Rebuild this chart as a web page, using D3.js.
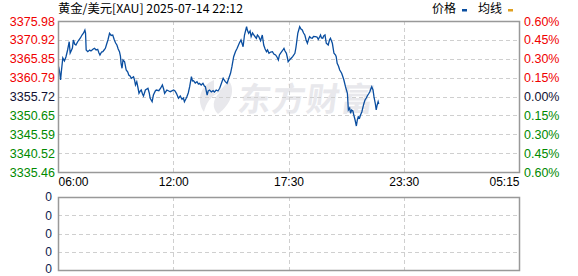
<!DOCTYPE html>
<html>
<head>
<meta charset="utf-8">
<script src="https://cdn.jsdelivr.net/npm/d3@7"></script>
<style>
    body { margin: 0; background: #fff; }
    text { font-family: "Liberation Sans", Arial, sans-serif; font-size: 12px; }
    .cjk { font-family: "Noto Sans CJK SC", sans-serif; }
</style>
</head>
<body>
<script>
(function(){

//pseudo-global variables
var titleText = "黄金/美元[XAU] 2025-07-14 22:12";
var legendNames = ["价格", "均线"];
var legendColors = ["#0a4ea0", "#e0a020"];

//x axis: tick times and where they fall (minutes after 06:00)
var tickLabels = ["06:00", "12:00", "17:30", "23:30", "05:15"];
var tickMinutes = [0, 360, 690, 1050, 1395];

//price axis ticks and previous close
var prevClose = 3355.72;
var priceTicks = [3375.98, 3370.92, 3365.85, 3360.79, 3355.72, 3350.65, 3345.59, 3340.52, 3335.46];
var pctTicks = [0.60, 0.45, 0.30, 0.15, 0.00, -0.15, -0.30, -0.45, -0.60];

//volume panel ticks (all zero)
var volumeTicks = [0, 0, 0, 0, 0];

//minutes after 06:00 for each price read
var minutes = [2, 5, 8, 11, 15, 20, 25, 30, 35, 38, 41, 45, 48, 52, 56, 61, 65, 70, 75, 80,
    84, 86, 88, 93, 99, 103, 110, 114, 119, 124, 128, 131, 136, 140, 144, 148, 152, 156, 161, 166,
    171, 176, 180, 184, 188, 192, 195, 197, 200, 203, 208, 213, 218, 221, 225, 229, 236, 239, 242, 246,
    250, 253, 257, 260, 264, 267, 271, 273, 281, 285, 288, 294, 298, 304, 307, 315, 321, 326, 330, 333,
    340, 346, 351, 361, 365, 369, 375, 380, 385, 389, 392, 396, 399, 403, 407, 412, 415, 418, 423, 428,
    432, 435, 440, 445, 449, 452, 457, 460, 464, 469, 474, 478, 483, 488, 493, 498, 503, 506, 509, 514,
    519, 524, 528, 533, 538, 543, 549, 554, 560, 564, 570, 572, 576, 580, 583, 587, 591, 595, 598, 601,
    605, 610, 615, 619, 623, 627, 630, 634, 639, 644, 648, 653, 657, 661, 664, 667, 672, 677, 680, 684,
    687, 689, 693, 696, 699, 703, 710, 713, 715, 719, 722, 725, 729, 733, 737, 741, 745, 749, 753, 756,
    760, 764, 768, 774, 779, 783, 787, 790, 793, 797, 800, 804, 808, 814, 818, 821, 827, 832, 837, 839,
    842, 846, 850, 856, 859, 863, 868, 874, 877, 881, 884, 887, 891, 894, 898, 902, 905, 908, 912, 915,
    919, 923, 926, 929, 933, 936, 940, 944, 947, 950, 954, 957, 959, 961, 964, 967, 970, 972];

//gold price at each minute above
var prices = [3363.72, 3362.38, 3360.15, 3362.83, 3366.05, 3365.25, 3366.40, 3368.20, 3370.43, 3367.39,
    3367.93, 3368.73, 3370.88, 3369.81, 3369.54, 3370.34, 3370.88, 3371.42, 3372.22, 3372.76,
    3373.56, 3372.76, 3368.20, 3367.74, 3368.20, 3367.93, 3368.47, 3368.65, 3368.20, 3368.39,
    3367.39, 3366.86, 3367.66, 3367.74, 3368.20, 3368.65, 3369.81, 3370.88, 3372.68, 3372.09,
    3372.22, 3370.88, 3370.08, 3369.54, 3368.47, 3367.74, 3366.59, 3364.63, 3363.29, 3365.51,
    3365.06, 3362.83, 3362.29, 3361.49, 3361.22, 3360.60, 3361.03, 3360.15, 3358.81, 3359.69,
    3358.00, 3356.58, 3357.20, 3357.46, 3356.39, 3355.85, 3356.93, 3357.46, 3357.92, 3356.66,
    3355.24, 3354.32, 3356.12, 3357.20, 3357.46, 3357.28, 3358.00, 3358.81, 3357.73, 3356.58,
    3357.46, 3357.20, 3357.01, 3357.46, 3357.20, 3356.58, 3355.24, 3355.85, 3354.97, 3355.32,
    3354.32, 3355.05, 3355.67, 3356.66, 3358.35, 3361.03, 3359.88, 3359.96, 3359.34, 3359.69,
    3359.07, 3359.26, 3358.81, 3359.26, 3358.54, 3358.35, 3356.12, 3357.20, 3357.46, 3356.93,
    3357.28, 3356.93, 3357.46, 3357.20, 3357.92, 3359.26, 3360.60, 3360.15, 3359.69, 3359.26,
    3360.60, 3361.95, 3363.72, 3366.40, 3367.74, 3368.65, 3370.00, 3370.88, 3369.08, 3372.22,
    3374.45, 3373.56, 3372.68, 3373.30, 3371.77, 3372.76, 3372.22, 3371.69, 3371.34, 3372.22,
    3371.77, 3370.69, 3372.22, 3369.54, 3368.47, 3367.74, 3368.20, 3367.31, 3367.66, 3367.74,
    3367.12, 3366.86, 3366.32, 3365.51, 3366.86, 3367.31, 3367.93, 3368.65, 3367.93, 3367.31,
    3366.05, 3365.06, 3365.51, 3365.78, 3366.05, 3366.40, 3367.31, 3368.73, 3370.00, 3372.68,
    3373.56, 3374.45, 3373.83, 3373.56, 3372.76, 3372.22, 3370.88, 3370.00, 3371.15, 3371.77,
    3371.42, 3371.34, 3371.82, 3371.77, 3371.69, 3371.07, 3371.69, 3372.22, 3371.42, 3371.34,
    3371.95, 3372.22, 3370.00, 3369.54, 3370.88, 3371.34, 3370.00, 3367.31, 3366.86, 3366.40,
    3364.63, 3363.90, 3362.83, 3361.95, 3361.22, 3360.15, 3358.35, 3356.58, 3352.10, 3352.63,
    3351.21, 3352.10, 3351.83, 3350.76, 3349.41, 3347.80, 3349.41, 3350.30, 3349.95, 3350.76,
    3351.56, 3352.98, 3353.98, 3354.78, 3355.32, 3355.85, 3356.39, 3357.01, 3357.73, 3358.35,
    3357.46, 3355.67, 3354.78, 3353.90, 3352.10, 3353.44, 3354.32, 3353.71];

//frame dimensions
var width = 578,
    height = 276,
    left = 58,
    right = 519,
    priceTop = 21,
    priceBottom = 172,
    volTop = 197,
    volBottom = 270;

var upColor = "#f00000",
    downColor = "#008a00",
    flatColor = "#111133",
    gridColor = "#cfcfcf",
    frameColor = "#999";

//piecewise x scale so the session ticks are evenly spaced
var xScale = d3.scaleLinear()
    .domain(tickMinutes)
    .range(tickMinutes.map(function(d, i){
        return left + i * (right - left) / (tickMinutes.length - 1);
    }));

var yScale = d3.scaleLinear()
    .domain([priceTicks[priceTicks.length - 1], priceTicks[0]])
    .range([priceBottom, priceTop]);

var volScale = d3.scaleLinear()
    .domain([volumeTicks.length - 1, 0])
    .range([volBottom, volTop]);

setChart();

function labelColor(v){
    if (Math.abs(v - prevClose) < 0.005) return flatColor;
    return v > prevClose ? upColor : downColor;
};

function setChart(){

    var svg = d3.select("body")
        .append("svg")
        .attr("width", width)
        .attr("height", height);

    //title
    svg.append("text")
        .attr("class", "cjk")
        .attr("x", left)
        .attr("y", 13)
        .attr("textLength", 185)
        .attr("lengthAdjust", "spacingAndGlyphs")
        .style("fill", "#000")
        .text(titleText);

    //legend
    var legendX = [432, 478];
    legendNames.forEach(function(name, i){
        svg.append("text")
            .attr("class", "cjk")
            .attr("x", legendX[i])
            .attr("y", 13)
            .style("fill", "#000")
            .text(name);
        svg.append("rect")
            .attr("x", legendX[i] + 30)
            .attr("y", 9)
            .attr("width", 5)
            .attr("height", 2.5)
            .style("fill", legendColors[i]);
    });

    //watermark
    var mark = svg.append("g")
        .style("fill", "#e8e8ec");
    mark.append("path")
        .attr("d", "M214,80 C200,86 196,100 204,112 C206,104 210,96 220,92 C212,100 212,108 218,114 C232,104 236,88 228,80 C224,88 218,92 214,94 Z");
    mark.append("text")
        .attr("class", "cjk")
        .attr("x", 238)
        .attr("y", 111)
        .attr("textLength", 136)
        .attr("transform", "skewX(-8) translate(14,0)")
        .style("font-size", "33px")
        .style("font-weight", "bold")
        .text("东方财富");

    //price grid
    var grid = svg.append("g")
        .style("stroke", gridColor)
        .style("stroke-dasharray", "4,3");

    grid.selectAll(".hgrid")
        .data(priceTicks.slice(1, -1))
        .enter()
        .append("line")
        .attr("x1", left).attr("x2", right)
        .attr("y1", function(d){ return Math.round(yScale(d)) + 0.5; })
        .attr("y2", function(d){ return Math.round(yScale(d)) + 0.5; });

    grid.selectAll(".vgrid")
        .data(tickMinutes.slice(1, -1))
        .enter()
        .append("line")
        .attr("x1", function(d){ return Math.round(xScale(d)) + 0.5; })
        .attr("x2", function(d){ return Math.round(xScale(d)) + 0.5; })
        .attr("y1", priceTop).attr("y2", priceBottom);

    //volume grid
    grid.selectAll(".vhgrid")
        .data(volumeTicks.slice(1, -1))
        .enter()
        .append("line")
        .attr("x1", left).attr("x2", right)
        .attr("y1", function(d, i){ return Math.round(volScale(i + 1)) + 0.5; })
        .attr("y2", function(d, i){ return Math.round(volScale(i + 1)) + 0.5; });

    grid.selectAll(".vvgrid")
        .data(tickMinutes.slice(1, -1))
        .enter()
        .append("line")
        .attr("x1", function(d){ return Math.round(xScale(d)) + 0.5; })
        .attr("x2", function(d){ return Math.round(xScale(d)) + 0.5; })
        .attr("y1", volTop).attr("y2", volBottom);

    //price line
    var points = minutes.map(function(m, i){ return [m, prices[i]]; });
    var line = d3.line()
        .x(function(d){ return xScale(d[0]); })
        .y(function(d){ return yScale(d[1]); });

    svg.append("path")
        .datum(points)
        .attr("d", line)
        .style("fill", "none")
        .style("stroke", "#0a4ea0")
        .style("stroke-width", 1.3)
        .style("stroke-linejoin", "miter");

    //frames
    [[priceTop, priceBottom], [volTop, volBottom]].forEach(function(f){
        svg.append("rect")
            .attr("x", left + 0.5)
            .attr("y", f[0] + 0.5)
            .attr("width", right - left)
            .attr("height", f[1] - f[0])
            .style("fill", "none")
            .style("stroke", frameColor)
            .style("stroke-width", 1.5);
    });

    //left price axis
    var leftAxis = svg.append("g")
        .attr("transform", "translate(" + (left - 3) + ",0)")
        .call(d3.axisLeft(yScale)
            .tickValues(priceTicks)
            .tickSize(0)
            .tickPadding(0)
            .tickFormat(d3.format(".2f")));
    leftAxis.select(".domain").remove();
    leftAxis.selectAll("text")
        .style("font-size", "12.5px")
        .style("fill", function(d){ return labelColor(d); });

    //right percent axis
    var pctScale = d3.scaleLinear()
        .domain([pctTicks[pctTicks.length - 1], pctTicks[0]])
        .range([priceBottom, priceTop]);
    var rightAxis = svg.append("g")
        .attr("transform", "translate(" + (right + 5) + ",0)")
        .call(d3.axisRight(pctScale)
            .tickValues(pctTicks)
            .tickSize(0)
            .tickPadding(0)
            .tickFormat(function(d){ return Math.abs(d).toFixed(2) + "%"; }));
    rightAxis.select(".domain").remove();
    rightAxis.selectAll("text")
        .style("font-size", "12.5px")
        .style("fill", function(d){
            if (d === 0) return flatColor;
            return d > 0 ? upColor : downColor;
        });

    //time axis
    var timeAxis = svg.append("g")
        .attr("transform", "translate(0," + (priceBottom + 4) + ")")
        .call(d3.axisBottom(xScale)
            .tickValues(tickMinutes)
            .tickSize(0)
            .tickPadding(0)
            .tickFormat(function(d, i){ return tickLabels[i]; }));
    timeAxis.select(".domain").remove();
    timeAxis.selectAll("text")
        .style("fill", "#000")
        .attr("dy", "0.85em")
        .attr("text-anchor", function(d, i){
            if (i === 0) return "start";
            if (i === tickLabels.length - 1) return "end";
            return "middle";
        });

    //volume axis
    var volAxis = svg.append("g")
        .attr("transform", "translate(" + (left - 6) + ",0)")
        .call(d3.axisLeft(volScale)
            .tickValues(d3.range(volumeTicks.length))
            .tickSize(0)
            .tickPadding(0)
            .tickFormat(function(d){ return volumeTicks[d]; }));
    volAxis.select(".domain").remove();
    volAxis.selectAll("text")
        .style("font-size", "12px")
        .attr("dy", function(d){ return d === volumeTicks.length - 1 ? "0.2em" : "0.32em"; })
        .style("fill", "#0b1a4d");
};

})();
</script>
</body>
</html>
